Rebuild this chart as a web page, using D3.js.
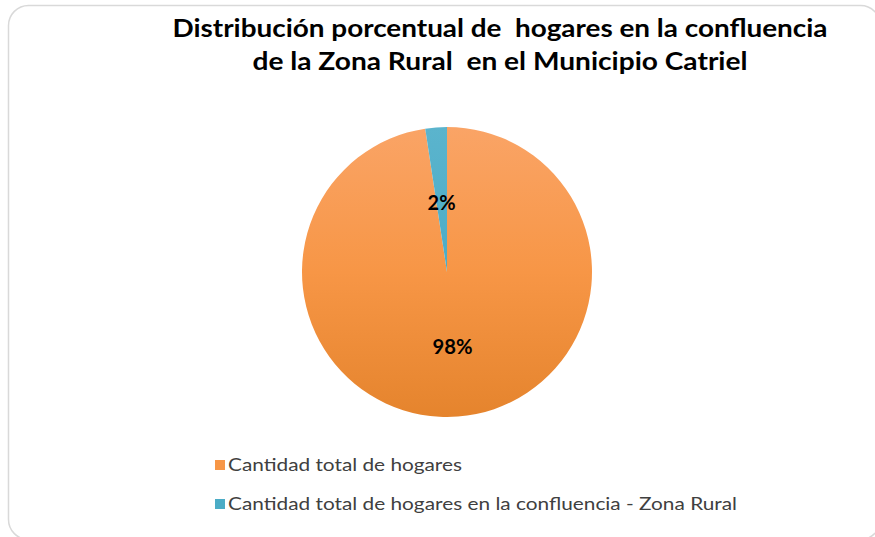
<!DOCTYPE html>
<html>
<head>
<meta charset="utf-8">
<script src="https://cdn.jsdelivr.net/npm/d3@7"></script>
<style>
  body { margin: 0; background: #fff; }
  text { white-space: pre; }
</style>
</head>
<body>
<svg id="grafico" width="875" height="537"></svg>
<script>
// datos
const categorias = ["Cantidad total de hogares", "Cantidad total de hogares en la confluencia - Zona Rural"];
const valores = [97.6, 2.4];
const titulo = ["Distribución porcentual de  hogares en la confluencia", "de la Zona Rural  en el Municipio Catriel"];

const colores = ["#F79646", "#4BACC6"];
const claros = ["#FAA466", "#5BB4CD"];
const oscuros = ["#E5842D", "#3FA3BE"];

const svg = d3.select("#grafico"),
  width = +svg.attr("width"),
  height = +svg.attr("height");

// borde redondeado
svg.append("rect")
  .attr("x", 8.5).attr("y", 5.5)
  .attr("width", 872).attr("height", 534)
  .attr("rx", 20)
  .attr("fill", "#fff")
  .attr("stroke", "#d9d9d9")
  .attr("stroke-width", 1.5);

// titulo: Lato es mas ancha que Calibri, se comprime al ancho del original
let anchos = [655, 495];
titulo.forEach((t, i) => {
  svg.append("text")
    .attr("x", 500)
    .attr("y", 37 + i * 33)
    .attr("text-anchor", "middle")
    .attr("font-family", "Lato, 'Open Sans', sans-serif")
    .attr("font-weight", "bold")
    .attr("font-size", 24)
    .attr("textLength", anchos[i])
    .attr("lengthAdjust", "spacingAndGlyphs")
    .attr("fill", "#000")
    .text(t);
});

const cx = 447, cy = 272, r = 145;

let defs = svg.append("defs");
colores.forEach((c, i) => {
  let g = defs.append("linearGradient")
    .attr("id", "grad" + i)
    .attr("gradientUnits", "userSpaceOnUse")
    .attr("x1", 0).attr("y1", -r)
    .attr("x2", 0).attr("y2", r);
  g.append("stop").attr("offset", "0%").attr("stop-color", claros[i]);
  g.append("stop").attr("offset", "50%").attr("stop-color", c);
  g.append("stop").attr("offset", "100%").attr("stop-color", oscuros[i]);
});

let pie = d3.pie().sort(null).value(d => d);
let arc = d3.arc().innerRadius(0).outerRadius(r);
let datos = pie(valores);
let total = d3.sum(valores);

let torta = svg.append("g")
  .attr("transform", "translate(" + cx + "," + cy + ")");

torta.selectAll("path")
  .data(datos)
  .enter().append("path")
  .attr("d", arc)
  .attr("fill", (d, i) => "url(#grad" + i + ")");

let anchosEtiqueta = [40, 28];
torta.selectAll("text")
  .data(datos)
  .enter().append("text")
  .attr("transform", d => "translate(" + arc.centroid(d) + ")")
  .attr("dy", "0.5em")
  .attr("text-anchor", "middle")
  .attr("font-family", "Lato, sans-serif")
  .attr("font-weight", "bold")
  .attr("font-size", 20)
  .attr("textLength", (d, i) => anchosEtiqueta[i])
  .attr("lengthAdjust", "spacingAndGlyphs")
  .attr("fill", "#000")
  .text(d => Math.round(d.value / total * 100) + "%");

// leyenda
let leyenda = svg.append("g")
  .attr("transform", "translate(215,460)");

let item = leyenda.selectAll("g")
  .data(categorias)
  .enter().append("g")
  .attr("transform", (d, i) => "translate(0," + i * 39 + ")");

item.append("rect")
  .attr("width", 10).attr("height", 10)
  .attr("fill", (d, i) => colores[i]);

let anchosLeyenda = [234, 509];
item.append("text")
  .attr("x", 13)
  .attr("y", 11)
  .attr("font-family", "Lato, sans-serif")
  .attr("font-size", 18)
  .attr("textLength", (d, i) => anchosLeyenda[i])
  .attr("lengthAdjust", "spacingAndGlyphs")
  .attr("fill", "#404040")
  .text(d => d);
</script>
</body>
</html>
